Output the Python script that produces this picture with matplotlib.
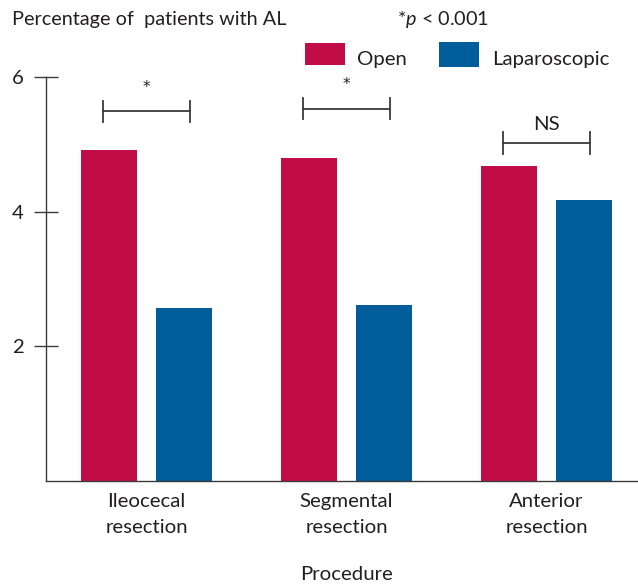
import matplotlib
matplotlib.use("Agg")
import matplotlib.pyplot as plt
from matplotlib.patches import Rectangle
import matplotlib.transforms as mtransforms
import numpy as np

# ---- data ----
categories = ["Ileocecal\nresection", "Segmental\nresection", "Anterior\nresection"]
open_vals = [4.92, 4.80, 4.68]
lap_vals = [2.56, 2.61, 4.17]
series_names = ["Open", "Laparoscopic"]
sig_labels = ["*", "*", "NS"]
bracket_levels = [5.49, 5.53, 5.02]
yticks = [2, 4, 6]

# ---- style ----
RED = "#C20C47"
BLUE = "#005D9C"
TXT = "#231F20"
LINE = "#3a3a3a"
plt.rcParams["font.family"] = ["Lato", "DejaVu Sans"]
plt.rcParams["mathtext.fontset"] = "custom"
plt.rcParams["mathtext.it"] = "Lato:italic"
plt.rcParams["mathtext.rm"] = "Lato"

W, H = 638, 584
fig = plt.figure(figsize=(W / 100, H / 100), dpi=100)
renderer = fig.canvas.get_renderer()

def fx(px):
    return px / W

def fy(py):
    return 1 - py / H

def fit(t, target_px):
    w = t.get_window_extent(renderer).width
    t.set_fontsize(t.get_fontsize() * target_px / w)
    return t.get_fontsize()

ax_left, ax_right, ax_top, ax_bot = 46, 638, 77, 480.7
ax_h = ax_bot - ax_top
ax = fig.add_axes([fx(ax_left), fy(ax_bot), (ax_right - ax_left) / W, ax_h / H])

x = np.arange(len(categories))
bw = 0.28
off = 0.1875
ax.bar(x - off, open_vals, bw, color=RED, zorder=2)
ax.bar(x + off, lap_vals, bw, color=BLUE, zorder=2)

ax.set_xlim(-0.5025, 2.4575)
ax.set_ylim(0, 6)

for s in ["top", "right"]:
    ax.spines[s].set_visible(False)
for s in ["left", "bottom"]:
    ax.spines[s].set_color(LINE)
    ax.spines[s].set_linewidth(1.0)

# header texts (fit widths to reference)
t_title = fig.text(fx(12), fy(25.5), "Percentage of  patients with AL", ha="left",
                   va="baseline", fontsize=13, color=TXT)
FS = fit(t_title, 275)
t_p = fig.text(fx(397), fy(25.5), r"*$\it{p}$ < 0.001", ha="left", va="baseline",
               fontsize=13, color=TXT)
fit(t_p, 92)

# category labels (two lines each), fitted on first label
cat_fs = None
blend = mtransforms.blended_transform_factory(ax.transData, ax.transAxes)
line_baselines = [506.7, 533.3]
for i, cat in enumerate(categories):
    for j, line in enumerate(cat.split("\n")):
        t = ax.text(x[i], -(line_baselines[j] - ax_bot) / ax_h, line, transform=blend,
                    ha="center", va="baseline", fontsize=13, color=TXT, clip_on=False)
        if cat_fs is None:
            cat_fs = fit(t, 78)
        else:
            t.set_fontsize(cat_fs)

ax.set_xticks([])
ax.set_yticks(yticks)
ax.set_yticklabels([str(v) for v in yticks])
ax.tick_params(axis="y", direction="inout", length=17, width=1.0, color=LINE,
               labelsize=cat_fs, labelcolor=TXT, pad=7.3)

ax.text(1, -(580 - ax_bot) / ax_h, "Procedure", transform=blend, ha="center",
        va="baseline", fontsize=cat_fs, color=TXT, clip_on=False)

# significance brackets
half_l, half_r = 0.22, 0.217
tick_h = 0.16
for i, (lab, lvl) in enumerate(zip(sig_labels, bracket_levels)):
    x0, x1 = x[i] - half_l, x[i] + half_r
    ax.plot([x0, x1], [lvl, lvl], color=LINE, lw=1.3, clip_on=False)
    ax.plot([x0, x0], [lvl - tick_h, lvl + tick_h], color=LINE, lw=1.3, clip_on=False)
    ax.plot([x1, x1], [lvl - tick_h, lvl + tick_h], color=LINE, lw=1.3, clip_on=False)
    if lab == "*":
        ax.text((x0 + x1) / 2, lvl + 0.36, lab, ha="center", va="center",
                fontsize=11, family="DejaVu Sans", color=TXT, clip_on=False)
    else:
        ax.text((x0 + x1) / 2, lvl + 0.27, lab, ha="center", va="center",
                fontsize=cat_fs, color=TXT, clip_on=False)

# legend
fig.add_artist(Rectangle((fx(305), fy(65)), 40 / W, 22 / H, transform=fig.transFigure,
                         color=RED, lw=0))
t_o = fig.text(fx(357), fy(65), series_names[0], ha="left", va="baseline", fontsize=14, color=TXT)
fig.add_artist(Rectangle((fx(439), fy(67)), 40 / W, 25 / H, transform=fig.transFigure,
                         color=BLUE, lw=0))
t_l = fig.text(fx(492), fy(65), series_names[1], ha="left", va="baseline", fontsize=14, color=TXT)
leg_fs = fit(t_l, 118)
t_o.set_fontsize(leg_fs)

fig.savefig("out.png", dpi=100)
